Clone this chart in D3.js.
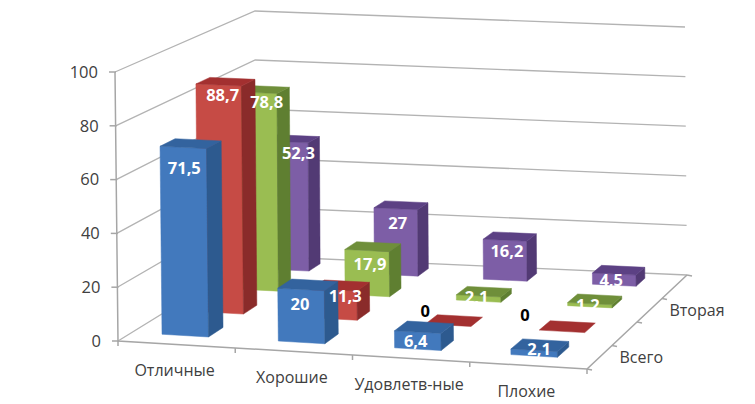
<!DOCTYPE html>
<html lang="ru">
<head>
<meta charset="utf-8">
<script src="https://cdn.jsdelivr.net/npm/d3@7/dist/d3.min.js"></script>
<style>
html,body{margin:0;padding:0;background:#fff}
svg{display:block}
text{font-family:"Open Sans",sans-serif}
</style>
</head>
<body>
<svg id="chart" width="755" height="404"></svg>
<script>
// Chart data
const categories = ["Отличные", "Хорошие", "Удовлетв-ные", "Плохие"];
const seriesNames = ["Всего", "", "Вторая", ""];
const seriesTotal = [71.5, 20, 6.4, 2.1];
const seriesB = [88.7, 11.3, 0, 0];
const seriesSecond = [78.8, 17.9, 2.1, 1.2];
const seriesD = [52.3, 27, 16.2, 4.5];
const valueTicks = [0, 20, 40, 60, 80, 100];

const allSeries = [seriesTotal, seriesB, seriesSecond, seriesD];

// Shading for each series: front, side and top faces
const palette = [
  {front: "#4279bd", side: "#2d5a8f", top: "#33639e"},
  {front: "#c64b45", side: "#8a2b2a", top: "#a33030"},
  {front: "#9abd52", side: "#5f7f31", top: "#6f8f3a"},
  {front: "#7d5ea6", side: "#523a74", top: "#5c4184"}
];

// Label placement relative to each bar's front top edge, per series
const labelShift = [{dx: 0, dy: 19}, {dx: 0, dy: 12}, {dx: 8, dy: 11}, {dx: 7, dy: 8}];
// Per-label adjustments [dx, dy] so labels clear neighbouring bars
const labelNudge = [
  [[1, 2], [-1, -4], [-2, -1], [5, -4]],
  [[4, -2], [11, -6], [7, -5], [-7, -7]],
  [[4, -1], [-5, 3], [-10, -2], [-10, 0]],
  [[5, 3], [-5, 6], [-5, 3], [-10, -1]]
];

// The eight corners of the plot box on screen; anything inside is blended between them
const box = {
  nearFloorL: [118, 341], nearFloorR: [587, 369],
  farFloorL: [256, 256], farFloorR: [687, 275],
  nearTopL: [115, 72], nearTopR: [584, 94],
  farTopL: [255, 11], farTopR: [685, 27]
};

function project(u, v, w) {
  const mix = (a, b, t) => [a[0] + (b[0] - a[0]) * t, a[1] + (b[1] - a[1]) * t];
  const near = mix(mix(box.nearFloorL, box.nearFloorR, u), mix(box.nearTopL, box.nearTopR, u), v);
  const far = mix(mix(box.farFloorL, box.farFloorR, u), mix(box.farTopL, box.farTopR, u), v);
  return mix(near, far, w);
}

const x = d3.scaleBand().domain(categories).range([0, 1]).paddingInner(0.6).paddingOuter(0.3).align(0.433);
const xStep = d3.scaleLinear().domain([0, categories.length]).range([0, 1]);
const y = d3.scaleLinear().domain([0, 100]).range([0, 1]);
const barY = d3.scaleLinear().domain([0, 100]).range([0, 0.985]);
const depth = d3.scaleLinear().domain([0, 1, 2, 3]).range([0.10, 0.365, 0.63, 0.862]);
const depthEdge = d3.scaleLinear().domain([0, allSeries.length]).range([0, 1]);
const barDepth = d3.scaleLinear().domain([0, 3]).range([0.11, 0.085]);

const svg = d3.select("#chart");
const line = d3.line();
const gridColor = "#b3b3b3";
const inkColor = "#404040";

// Walls: each gridline runs along the left wall and then the back wall
const grid = svg.append("g").attr("fill", "none").attr("stroke", gridColor).attr("stroke-width", 1.3);
grid.selectAll("path").data(valueTicks).join("path")
  .attr("d", t => line([project(0, y(t), 0), project(0, y(t), 1), project(1, y(t), 1)]));

// Axis lines
const axes = svg.append("g").attr("fill", "none").attr("stroke", "#a6a6a6").attr("stroke-width", 1.5);
axes.append("path").attr("d", line([project(0, 1, 0), project(0, 0, 0), project(1, 0, 0), project(1, 0, 1)]));

// Value axis ticks and labels
valueTicks.forEach(t => {
  const p = project(0, y(t), 0);
  axes.append("path").attr("d", line([[p[0] - 6, p[1]], [p[0] + 1, p[1]]]));
  svg.append("text").attr("x", p[0] - 17).attr("y", p[1]).attr("dy", "0.35em")
    .attr("text-anchor", "end").attr("font-size", 16.5).attr("fill", inkColor).text(t);
});

// Category axis ticks and labels
d3.range(categories.length + 1).forEach(i => {
  const p = project(xStep(i), 0, 0);
  axes.append("path").attr("d", line([p, [p[0], p[1] + 5]]));
});
categories.forEach((c, i) => {
  const p = project(xStep(i + 0.5), 0, 0);
  svg.append("text").attr("x", p[0] - 2).attr("y", p[1] + 26).attr("dy", "0.35em")
    .attr("text-anchor", "middle").attr("font-size", 16).attr("fill", inkColor).text(c);
});

// Depth axis ticks and series names
d3.range(allSeries.length + 1).forEach(i => {
  const p = project(1, 0, depthEdge(i));
  axes.append("path").attr("d", line([p, [p[0] + 5, p[1] + 1]]));
});
seriesNames.forEach((name, i) => {
  if (!name) return;
  const p = project(1, 0, depthEdge(i + 0.5));
  svg.append("text").attr("x", p[0] + 20).attr("y", p[1]).attr("dy", "0.35em")
    .attr("font-size", 16).attr("fill", inkColor).text(name);
});

// Bars are painted from the back row to the front row
const bars = svg.append("g");
const labels = [];
d3.range(allSeries.length).reverse().forEach(s => {
  const row = bars.append("g");
  const w0 = depth(s), w1 = w0 + barDepth(s);
  categories.forEach((c, i) => {
    const value = allSeries[s][i];
    const u0 = x(c), u1 = u0 + x.bandwidth(), v = barY(value);
    const face = (pts, fill) => row.append("path")
      .attr("d", line(pts) + "Z").attr("fill", fill).attr("stroke", fill).attr("stroke-width", 0.5);
    if (value > 0) {
      face([project(u0, 0, w0), project(u1, 0, w0), project(u1, v, w0), project(u0, v, w0)], palette[s].front);
      face([project(u1, 0, w0), project(u1, 0, w1), project(u1, v, w1), project(u1, v, w0)], palette[s].side);
    }
    face([project(u0, v, w0), project(u1, v, w0), project(u1, v, w1), project(u0, v, w1)], palette[s].top);

    const topFront = project((u0 + u1) / 2, v, w0);
    const height = project((u0 + u1) / 2, 0, w0)[1] - topFront[1];
    const [ndx, ndy] = labelNudge[s][i];
    if (value === 0) {
      labels.push({x: topFront[0] - 30 + ndx, y: topFront[1] - 9 + ndy, text: "0", fill: "#000"});
    } else {
      const shift = labelShift[s];
      labels.push({
        x: topFront[0] + shift.dx + ndx,
        y: topFront[1] + Math.min(shift.dy, height * 0.6) + ndy,
        text: String(value).replace(".", ","),
        fill: "#fff"
      });
    }
  });
});

// Value labels sit on top of every bar
svg.append("g").selectAll("text").data(labels).join("text")
  .attr("x", d => d.x).attr("y", d => d.y).attr("dy", "0.35em")
  .attr("text-anchor", "middle").attr("font-size", 16.5).attr("font-weight", 700)
  .attr("fill", d => d.fill).text(d => d.text);
</script>
</body>
</html>
